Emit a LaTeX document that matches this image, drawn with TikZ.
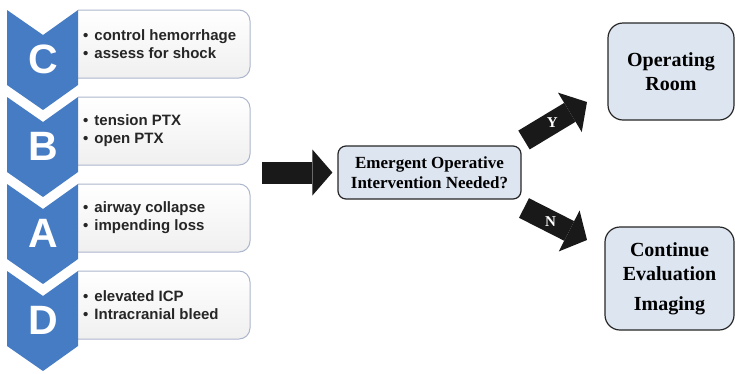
\documentclass[tikz,border=0pt]{standalone}
\usepackage{fontspec}
\setmainfont{Liberation Serif}
\newfontfamily\listfont{Liberation Sans}
\usetikzlibrary{arrows.meta}
\definecolor{chevblue}{RGB}{70,124,196}
\definecolor{boxline}{RGB}{172,182,204}
\definecolor{boxfill}{RGB}{221,229,240}
\tikzset{
  chevron/.style={fill=chevblue, draw=none},
  listbox/.style={draw=boxline, line width=1pt, top color=white, bottom color=black!6},
  listtext/.style={font=\listfont\bfseries\fontsize{15}{18}\selectfont, text=black!85, align=left, anchor=west, inner sep=0pt},
  letter/.style={font=\listfont\bfseries\fontsize{41}{41}\selectfont, text=white, inner sep=0pt},
  decision/.style={draw=black!85, line width=1.2pt, fill=boxfill, rounded corners=8pt, align=center, font=\bfseries\fontsize{17}{20}\selectfont, minimum width=183pt, minimum height=53pt, inner sep=0pt},
  outcome/.style={draw=black!85, line width=1.2pt, fill=boxfill, rounded corners=15pt, align=center, font=\bfseries\fontsize{20}{24}\selectfont, inner sep=0pt},
  blockarrow/.style={line width=22pt, draw=black!90, -{Triangle[length=20pt, width=46pt, line width=0pt]}},
  arrowlabel/.style={text=white, font=\bfseries\fontsize{15}{15}\selectfont}
}
\newcommand{\lbul}{\textbullet\hspace{6pt}}
\begin{document}
\begin{tikzpicture}[x=1pt, y=-1pt]
  \useasboundingbox (0,0) rectangle (735,373);
  % C B A D list
  \foreach \y/\l/\ta/\tb [count=\i] in {10/C/control hemorrhage/assess for shock,
      97/B/tension PTX/open PTX, 184/A/airway collapse/impending loss,
      271/D/elevated ICP/Intracranial bleed}{
    \draw[listbox, rounded corners=11pt] (78,\y) -- (250,\y) -- (250,\y+68) -- (78,\y+68);
    \fill[chevron] (7,\y) -- (43,\y+25) -- (78,\y) -- (78,\y+75) -- (43,\y+100) -- (7,\y+75) -- cycle;
    \node[letter] (l\i) at (43,\y+49) {\l};
    \node[listtext] (t\i) at (83,\y+34) {\lbul\ta\\\lbul\tb};
  }
  \node[decision] (dec) at (429.5,172.5) {Emergent Operative\\Intervention Needed?};
  \node[outcome, minimum width=126pt, minimum height=97pt] (or) at (671,71.5) {Operating\\Room};
  \node[outcome, minimum width=129pt, minimum height=103pt] (ce) at (669.5,278.5) {Continue\\Evaluation\\[6pt]Imaging};
  \coordinate (m1) at (262,172.5);
  \coordinate (y1) at (524,140);
  \coordinate (y2) at (587,102);
  \coordinate (n1) at (524,208);
  \coordinate (n2) at (587,240);
  \draw[blockarrow] (m1) -- ([xshift=-5pt]dec.west);
  \draw[blockarrow] (y1) -- (y2) node[arrowlabel, pos=0.45] (ylab) {Y};
  \draw[blockarrow] (n1) -- (n2) node[arrowlabel, pos=0.42] (nlab) {N};
\end{tikzpicture}
\end{document}
